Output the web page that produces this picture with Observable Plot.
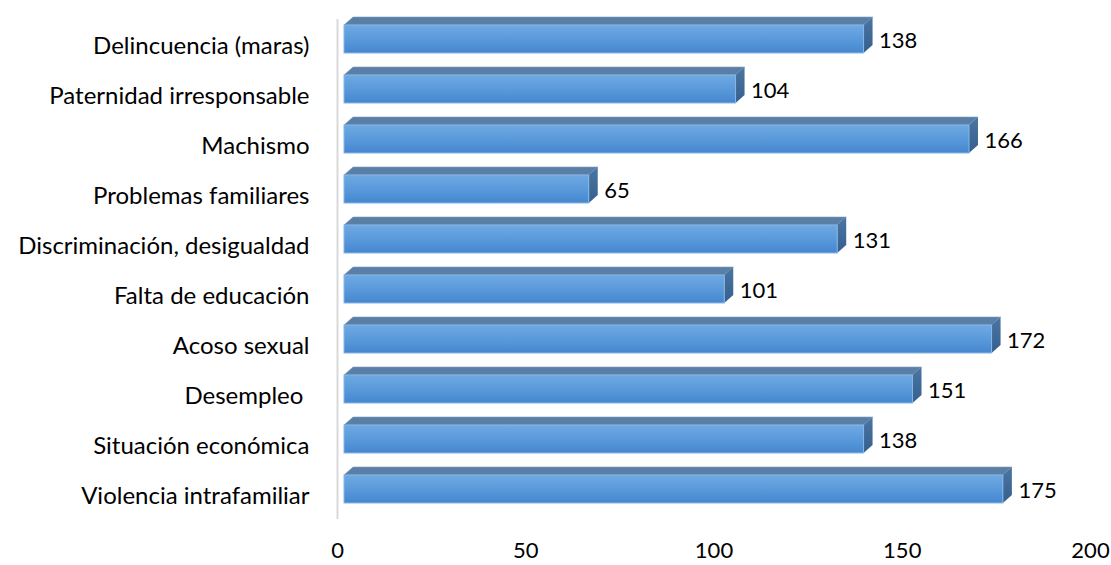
<!DOCTYPE html>
<html>
<head>
<meta charset="utf-8">
<script src="https://cdn.jsdelivr.net/npm/d3@7"></script>
<script src="https://cdn.jsdelivr.net/npm/@observablehq/plot@0.6"></script>
<style>
  html, body { margin: 0; padding: 0; background: #ffffff; }
  #chart svg text { white-space: pre; }
</style>
</head>
<body>
<div id="chart"></div>
<script>
// Causes listed, top to bottom, with their counts
const categories = [
  "Delincuencia (maras)",
  "Paternidad irresponsable",
  "Machismo",
  "Problemas familiares",
  "Discriminación, desigualdad",
  "Falta de educación",
  "Acoso sexual",
  "Desempleo ",
  "Situación económica",
  "Violencia intrafamiliar"
];
const counts = [138, 104, 166, 65, 131, 101, 172, 151, 138, 175];
const xTicks = [0, 50, 100, 150, 200];

const rows = categories.map((category, i) => ({category, value: counts[i]}));

const FONT = "Lato, 'Open Sans', sans-serif";
const FS_CAT = 24;   // category names
const FS_NUM = 22;   // numbers (bar values and x ticks)

// 3D-looking bar: front face, top face and right side face
const SHIFT = 7;      // front face offset from the back wall
const DEPTH_X = 9;    // depth, horizontal
const DEPTH_Y = 8;    // depth, vertical
const HALF = 14;      // half height of the front face

function bars3d(index, scales, values, dimensions) {
  const g = d3.create("svg:g");
  const defs = g.append("defs");
  const front = defs.append("linearGradient")
    .attr("id", "bar-front").attr("x1", 0).attr("y1", 0).attr("x2", 0).attr("y2", 1);
  front.append("stop").attr("offset", "0%").attr("stop-color", "#6fa9e2");
  front.append("stop").attr("offset", "55%").attr("stop-color", "#5898da");
  front.append("stop").attr("offset", "100%").attr("stop-color", "#4586cf");
  const side = defs.append("linearGradient")
    .attr("id", "bar-side").attr("x1", 0).attr("y1", 0).attr("x2", 0).attr("y2", 1);
  side.append("stop").attr("offset", "0%").attr("stop-color", "#4a76a3");
  side.append("stop").attr("offset", "100%").attr("stop-color", "#355f8c");

  const n = categories.length;
  const step = (dimensions.height - dimensions.marginTop - dimensions.marginBottom) / n;
  for (const i of index) {
    const d = rows[i];
    const cy = scales.y(d.category) + step / 2;
    const top = cy - HALF, bottom = cy + HALF;
    const left = scales.x(0) + SHIFT, right = scales.x(d.value) + SHIFT;
    // top face
    g.append("polygon")
      .attr("points", [[left, top], [right, top], [right + DEPTH_X, top - DEPTH_Y], [left + DEPTH_X, top - DEPTH_Y]].join(" "))
      .attr("fill", "#5a7fa7").attr("stroke", "#7c9cc0").attr("stroke-width", 0.6);
    // side face
    g.append("polygon")
      .attr("points", [[right, top], [right + DEPTH_X, top - DEPTH_Y], [right + DEPTH_X, bottom - DEPTH_Y], [right, bottom]].join(" "))
      .attr("fill", "url(#bar-side)");
    // front face
    g.append("rect")
      .attr("x", left).attr("y", top).attr("width", right - left).attr("height", bottom - top)
      .attr("fill", "url(#bar-front)").attr("stroke", "#86b6e6").attr("stroke-width", 1);
  }
  return g.node();
}

const chart = Plot.plot({
  width: 1111,
  height: 565,
  marginLeft: 337,
  marginRight: 21,
  marginTop: 14,
  marginBottom: 51,
  style: {fontFamily: FONT, fontSize: FS_NUM + "px", color: "#000", background: "#fff"},
  x: {domain: [0, 200], axis: null},
  y: {domain: categories, padding: 0, axis: null},
  marks: [
    Plot.ruleX([0], {stroke: "#d9d9d9", strokeWidth: 2, dy: 5}),
    Plot.barX(rows, {x: "value", y: "category", render: bars3d}),
    Plot.text(rows, {
      x: "value", y: "category", text: d => String(d.value),
      textAnchor: "start", dx: 22, dy: 1, fontSize: FS_NUM, fill: "#000"
    }),
    Plot.axisY({tickSize: 0, tickPadding: 28, dy: 7, fontSize: FS_CAT, fill: "#000", label: null}),
    Plot.axisX({ticks: xTicks, tickSize: 0, tickPadding: 28, fontSize: FS_NUM, fill: "#000", label: null})
  ]
});

document.getElementById("chart").appendChild(chart);
</script>
</body>
</html>
